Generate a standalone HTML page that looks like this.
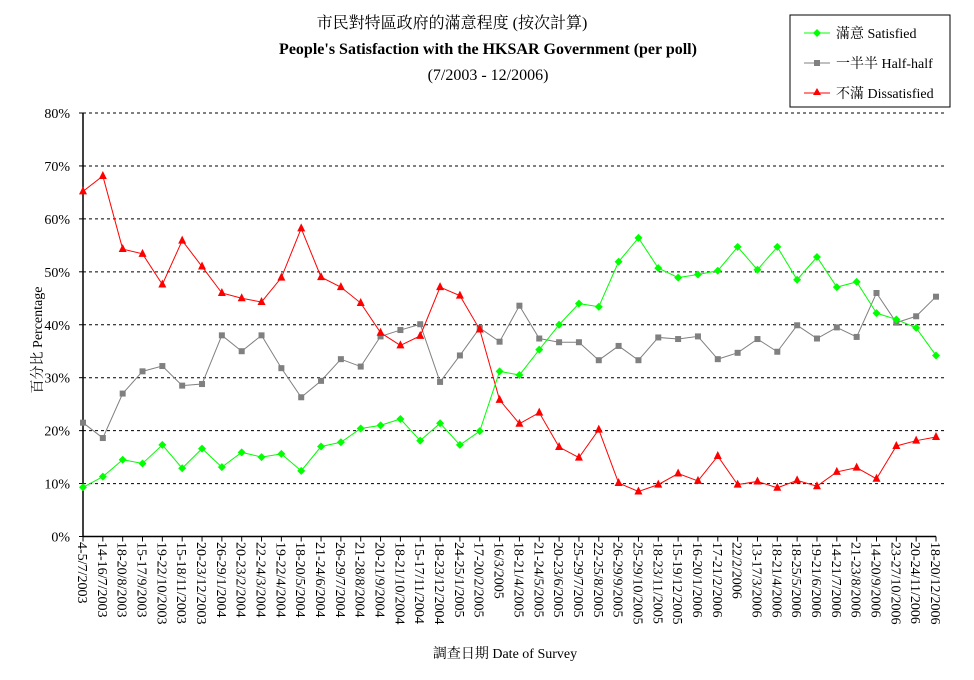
<!DOCTYPE html>
<html><head><meta charset="utf-8"><style>
body{margin:0;background:#fff;}
svg{display:block;font-family:"Liberation Serif","Noto Serif CJK SC","Noto Sans CJK TC",serif;}
</style></head><body>
<svg id="chart" width="974" height="680" viewBox="0 0 974 680" xmlns="http://www.w3.org/2000/svg">
<g text-anchor="middle">
<text x="452" y="28" font-size="16">市民對特區政府的滿意程度 (按次計算)</text>
<text x="488" y="54" font-size="16" font-weight="bold">People's Satisfaction with the HKSAR Government (per poll)</text>
<text x="488" y="80" font-size="16">(7/2003 - 12/2006)</text>
</g>
<g id="grid"></g>
<g id="yaxis"></g>
<g id="xaxis"></g>
<g id="series"></g>
<text transform="translate(42,340) rotate(-90)" text-anchor="middle" font-size="14">百分比 Percentage</text>
<text x="505" y="658" text-anchor="middle" font-size="14">調查日期 Date of Survey</text>
<g>
<rect x="790" y="15" width="160" height="92" fill="#fff" stroke="#000" stroke-width="1"/>
<g>
<line x1="804" y1="33" x2="830" y2="33" stroke="#00ff00" stroke-width="1"/><polygon points="817,29 821,33 817,37 813,33" fill="#00ff00"/>
<text x="836" y="38" font-size="14">滿意 Satisfied</text></g>
<g>
<line x1="804" y1="63" x2="830" y2="63" stroke="#808080" stroke-width="1"/><rect x="814" y="60" width="6" height="6" fill="#808080"/>
<text x="836" y="68" font-size="14">一半半 Half-half</text></g>
<g>
<line x1="804" y1="93" x2="830" y2="93" stroke="#ff0000" stroke-width="1"/><polygon points="817,88 821,95 813,95" fill="#ff0000"/>
<text x="836" y="98" font-size="14">不滿 Dissatisfied</text></g>
</g>
</svg>
<script>
const categories=["4-5/7/2003","14-16/7/2003","18-20/8/2003","15-17/9/2003","19-22/10/2003","15-18/11/2003","20-23/12/2003","26-29/1/2004","20-23/2/2004","22-24/3/2004","19-22/4/2004","18-20/5/2004","21-24/6/2004","26-29/7/2004","21-28/8/2004","20-21/9/2004","18-21/10/2004","15-17/11/2004","18-23/12/2004","24-25/1/2005","17-20/2/2005","16/3/2005","18-21/4/2005","21-24/5/2005","20-23/6/2005","25-29/7/2005","22-25/8/2005","26-29/9/2005","25-29/10/2005","18-23/11/2005","15-19/12/2005","16-20/1/2006","17-21/2/2006","22/2/2006","13-17/3/2006","18-21/4/2006","18-25/5/2006","19-21/6/2006","14-21/7/2006","21-23/8/2006","14-20/9/2006","23-27/10/2006","20-24/11/2006","18-20/12/2006"];
const satisfied=[9.3,11.3,14.5,13.8,17.3,12.9,16.6,13.1,15.9,15.0,15.6,12.4,17.0,17.8,20.4,21.0,22.2,18.1,21.4,17.3,19.9,31.2,30.5,35.3,40.0,44.0,43.4,51.9,56.4,50.7,48.9,49.5,50.2,54.7,50.4,54.7,48.5,52.8,47.1,48.1,42.2,41.0,39.4,34.2];
const halfHalf=[21.5,18.6,27.0,31.2,32.2,28.5,28.8,38.0,35.0,38.0,31.8,26.3,29.4,33.5,32.1,37.8,39.0,40.1,29.2,34.2,39.4,36.8,43.6,37.4,36.7,36.7,33.3,36.0,33.3,37.6,37.3,37.8,33.5,34.7,37.3,34.9,39.9,37.4,39.5,37.7,46.0,40.4,41.6,45.3];
const dissatisfied=[65.2,68.1,54.3,53.4,47.6,55.9,51.0,46.0,45.0,44.3,48.9,58.2,49.0,47.1,44.1,38.5,36.1,37.9,47.1,45.5,39.1,25.8,21.3,23.4,16.9,14.9,20.2,10.1,8.5,9.8,11.9,10.5,15.2,9.8,10.4,9.2,10.6,9.5,12.2,13.0,10.9,17.1,18.1,18.8];
const yTicks=[0,10,20,30,40,50,60,70,80];
const yTickLabels=["0%","10%","20%","30%","40%","50%","60%","70%","80%"];

const NS="http://www.w3.org/2000/svg";
const X0=83,X1=936,Y0=536.5,Y1=113,VMAX=80;
function xs(i){return X0+(X1-X0)*i/(categories.length-1);}
function ys(v){return Y0-(Y0-Y1)*v/VMAX;}
function mk(tag,attrs,parent){const e=document.createElementNS(NS,tag);for(const k in attrs)e.setAttribute(k,attrs[k]);parent.appendChild(e);return e;}
const grid=document.getElementById('grid'),yax=document.getElementById('yaxis'),xax=document.getElementById('xaxis'),ser=document.getElementById('series');
yTicks.forEach((t,i)=>{
  if(t>0){const g=mk('line',{x1:X0,x2:944,y1:ys(t),y2:ys(t),stroke:'#000','stroke-dasharray':'3,3','stroke-width':1},grid);
  
  }
  const tl=mk('line',{x1:X0-4,x2:X0,y1:ys(t),y2:ys(t),stroke:'#000'},yax);
  
  
  const lb=mk('text',{x:70,y:ys(t)+5,'text-anchor':'end','font-size':14},yax);
  
  
  lb.textContent=yTickLabels[i];
});
const ya=mk('line',{x1:X0,x2:X0,y1:Y1,y2:Y0,stroke:'#000','stroke-width':1.5},yax);


const xa=mk('line',{x1:X0,x2:X1,y1:Y0,y2:Y0,stroke:'#000','stroke-width':1.5},xax);


categories.forEach((c,i)=>{
  const x=xs(i);
  const tk=mk('line',{x1:x,x2:x,y1:Y0,y2:Y0+5,stroke:'#000'},xax);
  
  
  const t=mk('text',{transform:`translate(${x-5},542) rotate(90)`,'font-size':14},xax);
  
  
  t.textContent=c;
});
function drawSeries(data,color,shape,name){
  const g=mk('g',{},ser);
  
  
  const pl=mk('polyline',{points:data.map((v,i)=>xs(i)+','+ys(v)).join(' '),fill:'none',stroke:color,'stroke-width':1},g);
  
  
  data.forEach((v,i)=>{
    const x=xs(i),y=ys(v);let m;
    if(shape==='diamond')m=mk('polygon',{points:`${x},${y-4} ${x+4},${y} ${x},${y+4} ${x-4},${y}`,fill:color},g);
    else if(shape==='square')m=mk('rect',{x:x-3,y:y-3,width:6,height:6,fill:color},g);
    else m=mk('polygon',{points:`${x},${y-5} ${x+4},${y+3} ${x-4},${y+3}`,fill:color},g);
    
    
  });
}
drawSeries(halfHalf,'#808080','square','series-half-half');
drawSeries(dissatisfied,'#ff0000','triangle','series-dissatisfied');
drawSeries(satisfied,'#00ff00','diamond','series-satisfied');
</script>
</body></html>
